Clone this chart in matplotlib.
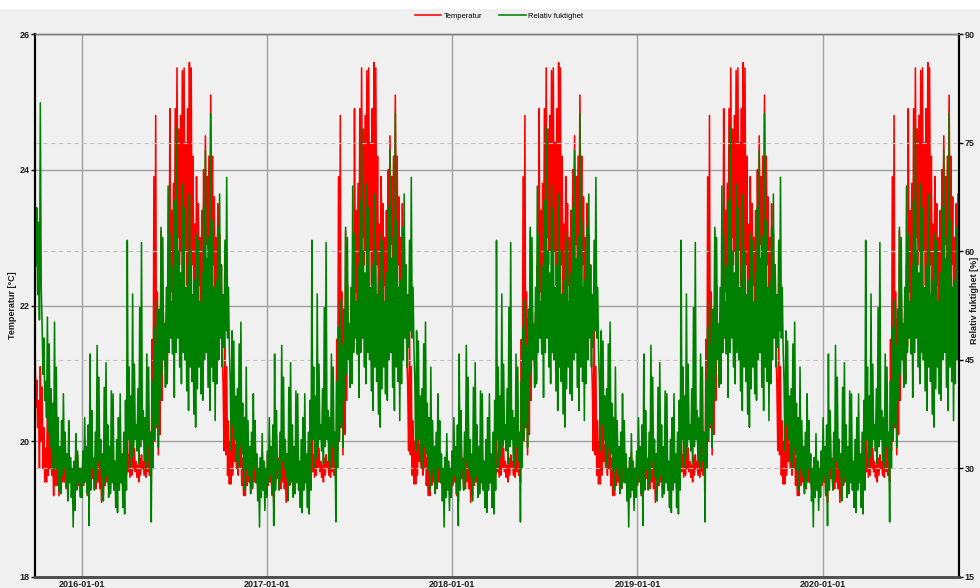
import numpy as np
import pandas as pd
import matplotlib.pyplot as plt
from matplotlib.patches import Rectangle

# ---------------------------
# Data: weekly readings over a calendar year (index 0 = first week of January)
# hi / lo = weekly extremes, hi2 / lo2 = next highest / lowest readings
# ---------------------------
temp_hi = [19.9, 20.0, 20.1, 20.05, 19.8, 19.7, 19.85, 19.6, 19.6, 19.7,
           19.6, 19.8, 20.3, 20.1, 19.9, 19.75, 19.8, 19.95, 20.2, 23.9,
           24.8, 23.1, 22.3, 22.6, 24.9, 24.9, 25.5, 25.46, 25.5, 25.58,
           25.5, 23.9, 23.5, 24.0, 24.5, 25.1, 24.2, 23.5, 23.05, 21.7,
           21.1, 20.45, 20.4, 20.35, 20.0, 19.95, 19.8, 19.85, 19.75, 19.7,
           19.85, 19.8]
temp_lo = [19.2, 19.1, 19.3, 19.3, 19.1, 19.2, 19.3, 19.3, 19.3, 19.4,
           19.3, 19.4, 19.47, 19.5, 19.47, 19.4, 19.5, 19.47, 19.4, 19.86,
           19.8, 20.1, 21.1, 20.9, 21.8, 22.1, 22.6, 22.8, 22.3, 21.6,
           22.1, 22.2, 21.8, 22.2, 22.6, 22.8, 22.2, 21.6, 21.3, 19.86,
           19.37, 19.37, 19.6, 19.5, 19.2, 19.2, 19.3, 19.3, 19.3, 19.3,
           19.3, 19.2]
temp_hi2 = [19.65, 19.7, 19.75, 19.7, 19.6, 19.55, 19.65, 19.5, 19.55, 19.6,
            19.5, 19.6, 19.8, 19.85, 19.7, 19.65, 19.7, 19.75, 19.8, 21.5,
            22.2, 21.8, 21.6, 21.9, 23.4, 23.8, 24.6, 24.8, 24.4, 24.9,
            24.2, 23.2, 23.0, 23.4, 23.9, 24.2, 23.6, 23.0, 22.6, 20.8,
            20.3, 20.0, 19.95, 19.9, 19.75, 19.7, 19.6, 19.65, 19.6, 19.55,
            19.65, 19.6]
temp_lo2 = [19.4, 19.35, 19.45, 19.4, 19.3, 19.35, 19.4, 19.4, 19.4, 19.45,
            19.4, 19.5, 19.55, 19.6, 19.55, 19.5, 19.6, 19.55, 19.5, 20.0,
            20.2, 20.6, 21.5, 21.4, 22.2, 22.5, 23.0, 23.2, 22.8, 22.4,
            22.6, 22.6, 22.3, 22.6, 22.9, 23.1, 22.6, 22.1, 21.8, 19.8,
            19.5, 19.5, 19.7, 19.6, 19.35, 19.35, 19.4, 19.4, 19.4, 19.4,
            19.4, 19.35]

hum_hi = [37.0, 45.8, 38.0, 47.0, 42.6, 41.2, 44.6, 40.7, 40.3, 37.0,
          40.3, 39.4, 61.5, 54.1, 44.4, 52.2, 61.2, 45.8, 44.0, 49.5,
          53.2, 63.3, 61.9, 69.0, 62.4, 67.0, 77.1, 69.3, 66.0, 67.9,
          60.0, 62.4, 61.5, 66.0, 73.9, 79.0, 64.2, 63.3, 67.9, 61.5,
          70.2, 49.0, 47.6, 47.2, 50.2, 44.0, 36.6, 40.3, 36.6, 31.5,
          34.8, 32.4]
hum_lo = [26.5, 22.1, 27.0, 28.3, 28.8, 25.5, 26.0, 26.5, 24.6, 23.9,
          24.6, 23.7, 30.1, 31.5, 32.4, 30.6, 31.0, 30.0, 22.6, 30.1,
          32.9, 39.4, 41.2, 41.7, 45.8, 39.8, 44.0, 41.7, 40.7, 38.0,
          37.5, 35.7, 40.3, 39.4, 41.2, 38.0, 36.6, 41.7, 44.0, 46.7,
          46.3, 32.4, 31.0, 30.1, 29.7, 27.0, 26.5, 27.4, 25.5, 21.9,
          24.2, 26.0]
hum_hi2 = [33, 36, 31, 35, 34, 32, 36, 33, 31, 34,
           32, 35, 44, 40, 36, 41, 38, 37, 35, 42,
           47, 52, 50, 55, 53, 58, 60, 57, 55, 58,
           54, 56, 53, 57, 59, 62, 55, 56, 58, 54,
           55, 42, 40, 41, 39, 37, 33, 35, 32, 30,
           31, 30]
hum_lo2 = [29, 27, 30, 31, 30, 28, 29, 28, 27, 27,
           28, 27, 34, 33, 34, 33, 34, 33, 31, 34,
           36, 43, 45, 46, 48, 46, 48, 46, 45, 44,
           42, 41, 44, 45, 46, 44, 42, 45, 48, 49,
           48, 36, 34, 33, 32, 30, 29, 30, 28, 26,
           27, 28]

# first weeks of the log (October 2015)
start_temp = {"hi": [21.5, 21.1, 20.8, 20.6], "lo": [20.2, 19.6, 19.4, 19.4],
              "hi2": [20.9, 20.6, 20.2, 19.9], "lo2": [20.5, 20.0, 19.6, 19.5]}
start_hum = {"hi": [70.0, 80.5, 50.0, 50.9], "lo": [54.0, 50.5, 39.4, 37.0],
             "hi2": [66, 64, 48, 42], "lo2": [58, 55, 43, 35]}

start_date = "2015-10-01"
end_date = "2020-09-26"
year_ticks = ["2016-01-01", "2017-01-01", "2018-01-01", "2019-01-01", "2020-01-01"]

# ---------------------------
# Build the time series, four readings per week
# ---------------------------
weeks = pd.date_range(start_date, end_date, freq="7D")
times, temp, hum = [], [], []
for i, d in enumerate(weeks):
    if i < len(start_temp["hi"]):
        t = [start_temp[k][i] for k in ("hi", "lo2", "hi2", "lo")]
        h = [start_hum[k][i] for k in ("hi", "lo2", "hi2", "lo")]
    else:
        w = min((d.dayofyear - 1) // 7, 51)
        t = [temp_hi[w], temp_lo2[w], temp_hi2[w], temp_lo[w]]
        h = [hum_hi[w], hum_lo2[w], hum_hi2[w], hum_lo[w]]
    if i % 2:
        t = t[2:] + t[:2]
        h = h[2:] + h[:2]
    for j in range(4):
        times.append(d + pd.Timedelta(hours=42 * j))
        temp.append(t[j])
        hum.append(h[j])
times = pd.to_datetime(times)

# ---------------------------
# Figure
# ---------------------------
plt.rcParams["font.family"] = ["Liberation Sans", "DejaVu Sans"]

fig = plt.figure(figsize=(9.8, 5.88), dpi=100, facecolor="#f0f0f0")
fig.patches.append(Rectangle((0, 1 - 9 / 588), 1, 9 / 588, transform=fig.transFigure,
                             facecolor="white", edgecolor="none", zorder=0))

ax = fig.add_axes([35 / 980, 11 / 588, 924 / 980, 543 / 588])
ax.set_facecolor("#f0f0f0")
ax2 = ax.twinx()

ax.plot(times, temp, color="#ff0000", linewidth=1.15, label="Temperatur")
ax2.plot(times, hum, color="#008000", linewidth=1.15, label="Relativ fuktighet")

ax.set_xlim(pd.Timestamp(start_date), pd.Timestamp(end_date))
ax.set_ylim(18, 26)
ax.set_yticks([18, 20, 22, 24, 26])
ax2.set_ylim(15, 90)
ax2.set_yticks([15, 30, 45, 60, 75, 90])

ax.set_xticks(pd.to_datetime(year_ticks))
ax.set_xticklabels(year_ticks)

# grids: solid for temperature / years, dashed for humidity
ax.grid(True, color="#a0a0a0", linewidth=1.0)
ax.set_axisbelow(True)
ax2.grid(True, axis="y", color="#c4c4c4", linewidth=0.8, linestyle=(0, (4, 3)))
ax2.set_axisbelow(True)

for lab in ax.get_xticklabels() + ax.get_yticklabels() + ax2.get_yticklabels():
    lab.set_fontsize(6.5)
    lab.set_fontweight("bold")
    lab.set_color("#202020")

ax.tick_params(axis="x", length=0, pad=2)
ax.tick_params(axis="y", length=3, width=1, pad=1, color="black")
ax2.tick_params(axis="y", length=3, width=1, pad=1, color="black")

ax.set_ylabel("Temperatur [°C]", fontsize=6.5, fontweight="bold", color="#202020")
ax.yaxis.set_label_coords(-0.019, 0.5)
ax2.set_ylabel("Relativ fuktighet [%]", fontsize=6.5, fontweight="bold", color="#202020")
ax2.yaxis.set_label_coords(1.012, 0.51)

# spines
for a in (ax, ax2):
    a.spines["top"].set_color("#808080")
    a.spines["top"].set_linewidth(1.0)
    a.spines["bottom"].set_color("#505050")
    a.spines["bottom"].set_linewidth(2.0)
    a.spines["left"].set_color("black")
    a.spines["left"].set_linewidth(1.5)
    a.spines["right"].set_color("black")
    a.spines["right"].set_linewidth(1.5)

h1, l1 = ax.get_legend_handles_labels()
h2, l2 = ax2.get_legend_handles_labels()
fig.legend(h1 + h2, l1 + l2, loc="center", bbox_to_anchor=(0.509, 1 - 16 / 588),
           ncol=2, frameon=False, fontsize=5.5, handlelength=3.5, columnspacing=2.2,
           handletextpad=0.3)

fig.savefig("out.png", dpi=100, facecolor=fig.get_facecolor())
